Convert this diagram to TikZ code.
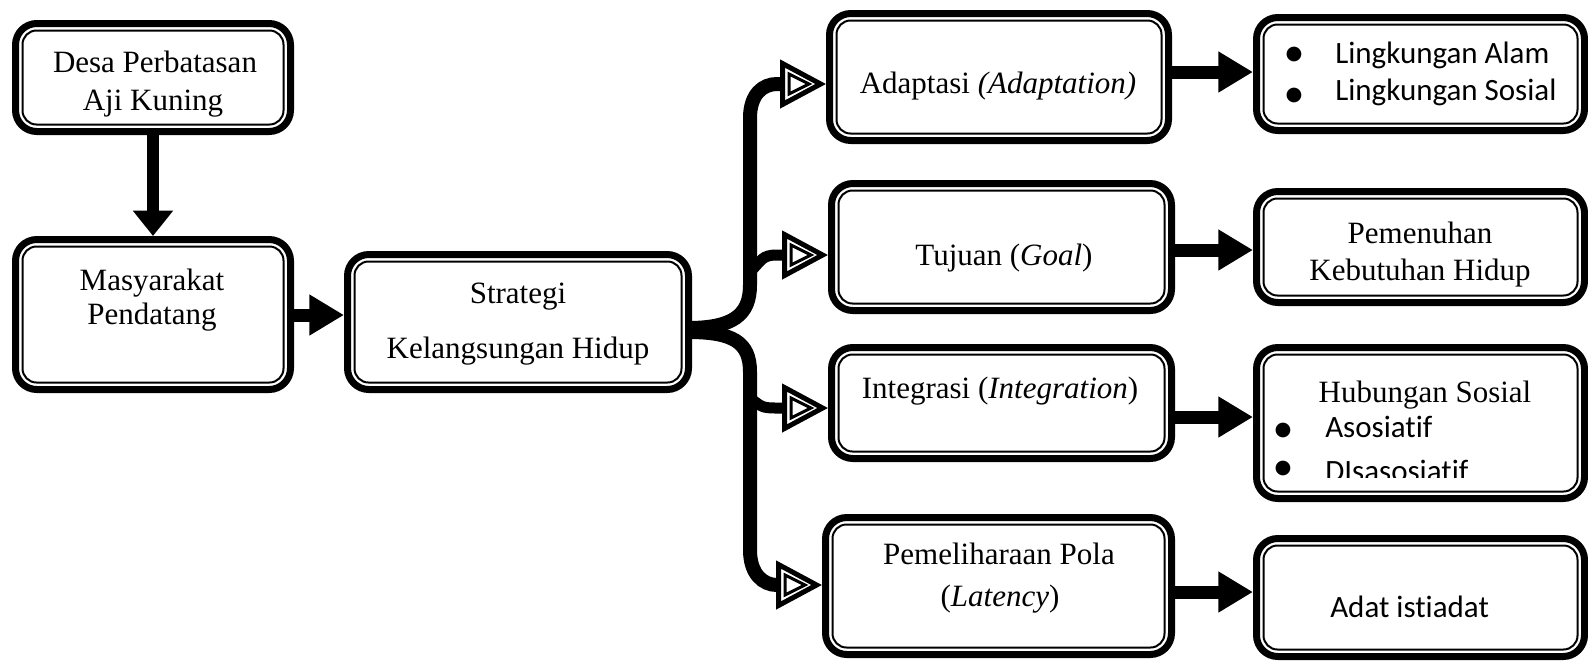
\documentclass[tikz,border=0pt]{standalone}
\usepackage{fontspec}
\setmainfont{Liberation Serif}
\newfontfamily\calfont[Ligatures=NoCommon]{Carlito}
\newfontfamily\symfont{DejaVu Sans}
\usetikzlibrary{arrows.meta,calc}
\begin{document}
\begin{tikzpicture}[x=0.75pt,y=-0.75pt,
  box/.style={draw, line width=5.25pt, rounded corners=16pt, inner sep=0pt, fill=white,
    path picture={\draw[line width=1.5pt, rounded corners=10.5pt]
      ($(path picture bounding box.south west)+(5.25pt,5.25pt)$) rectangle
      ($(path picture bounding box.north east)-(5.25pt,5.25pt)$);}},
  txt/.style={font=\fontsize{23.25}{28}\selectfont, inner sep=0pt, anchor=base},
  ctxt/.style={font=\calfont\fontsize{23.25}{28}\selectfont, inner sep=0pt, anchor=base west},
  bul/.style={font=\symfont\fontsize{14.5}{16}\selectfont, inner sep=0pt, anchor=center},
  fat/.style={line width=9.75pt, -{Triangle[length=26pt,width=29pt]}},
  fatdown/.style={line width=9pt, -{Triangle[length=19pt,width=29pt]}},
  mainbr/.style={line width=10.5pt, -{Triangle[fill=white,length=34.5pt,width=36pt,line width=3.75pt]}},
  subbr/.style={line width=8.25pt, -{Triangle[fill=white,length=34.5pt,width=36pt,line width=3.75pt]}},
  innertri/.style={line width=2.25pt, fill=white, line join=miter},
]
\useasboundingbox (0,0) rectangle (1588,662);

% boxes
\node[box, minimum width=206.25pt, minimum height=81pt]    (D)  at (153,77.5) {};
\node[box, minimum width=206.25pt, minimum height=112.5pt] (M)  at (153,314.5) {};
\node[box, minimum width=255.75pt, minimum height=101.25pt](S)  at (518,322) {};
\node[box, minimum width=254.25pt, minimum height=95.25pt] (A)  at (999,77) {};
\node[box, minimum width=255pt,    minimum height=95.25pt] (T)  at (1001.5,247) {};
\node[box, minimum width=255pt,    minimum height=83.25pt] (I)  at (1001.5,403) {};
\node[box, minimum width=259.5pt,  minimum height=102.75pt](P)  at (998.5,586) {};
\node[box, minimum width=246pt,    minimum height=84.75pt] (L)  at (1420.5,74) {};
\node[box, minimum width=246pt,    minimum height=83.25pt] (K)  at (1420.5,247) {};
\node[box, minimum width=246pt,    minimum height=113.25pt](H)  at (1420.5,423) {};
\node[box, minimum width=246pt,    minimum height=88.5pt]  (Ad) at (1420.5,597.5) {};

% texts
\node[txt] (d1) at (155,72) {Desa Perbatasan};
\node[txt] (d2) at (153,110) {Aji Kuning};
\node[txt] (m1) at (152,290) {Masyarakat};
\node[txt] (m2) at (152,324) {Pendatang};
\node[txt] (s1) at (518,303) {Strategi};
\node[txt] (s2) at (518,358) {Kelangsungan Hidup};
\node[txt] (a1) at (998,93) {Adaptasi \textit{(Adaptation)}};
\node[txt] (t1) at (1004,265) {Tujuan (\textit{Goal})};
\node[txt] (i1) at (1000,398) {Integrasi (\textit{Integration})};
\node[txt] (p1) at (999,564) {Pemeliharaan Pola};
\node[txt] (p2) at (1000,606) {(\textit{Latency})};
\node[bul] (lb1) at (1294,54) {●};
\node[bul] (lb2) at (1294,95) {●};
\node[ctxt] (l1) at (1335,63) {Lingkungan Alam};
\node[ctxt] (l2) at (1335,100) {Lingkungan Sosial};
\node[txt] (k1) at (1420,243) {Pemenuhan};
\node[txt] (k2) at (1420,280) {Kebutuhan Hidup};
\node[txt] (h1) at (1425,402) {Hubungan Sosial};
\node[bul] (hb1) at (1283,430) {●};
\node[bul] (hb2) at (1283,468) {●};
\node[ctxt] (h2) at (1325,437) {Asosiatif};
\begin{scope}
\clip (1300,450) rectangle (1560,477);
\node[ctxt] (h3) at (1325,481) {DIsasosiatif};
\end{scope}
\node[ctxt] (ad1) at (1330,617) {Adat istiadat};

% solid arrows
\draw[fatdown] (D.south) -- (M.north);
\draw[fat] ($(M.east)+(0,0.5)$) -- ($(S.west)+(0,-7)$);
\draw[fat] ($(A.east)+(0,-5)$) -- ($(L.west)+(0,-2)$);
\draw[fat] ($(T.east)+(0,3)$) -- ($(K.west)+(0,3)$);
\draw[fat] ($(I.east)+(0,14)$) -- ($(H.west)+(0,-6)$);
\draw[fat] ($(P.east)+(0,6)$) -- ($(Ad.west)+(0,-5.5)$);

% branching connector
\draw[mainbr] ($(S.east)+(-4,6)$) .. controls +(45,0) and +(0,30) .. (750,285) -- (750,118)
   .. controls +(0,-24) and +(-14,0) .. ($(A.west)+(-49,7)$) -- ($(A.west)+(0,7)$);
\draw[mainbr] ($(S.east)+(-4,10)$) .. controls +(45,0) and +(0,-30) .. (750,372) -- (750,550)
   .. controls +(0,24) and +(-14,0) .. ($(P.west)+(-45,-1)$) -- ($(P.west)+(0,-1)$);
\draw[subbr] (750,272) .. controls +(12,-12) and +(-15,0) .. ($(T.west)+(-51,8)$) -- ($(T.west)+(0,8)$);
\draw[subbr] (750,398) .. controls +(12,9) and +(-15,0) .. ($(I.west)+(-51,5)$) -- ($(I.west)+(0,5)$);
\foreach \n/\o in {A/7,T/8,I/5,P/-1}
  \draw[innertri] ($(\n.west)+(-37,\o-10)$) -- ($(\n.west)+(-37,\o+10)$) -- ($(\n.west)+(-17,\o)$) -- cycle;
\end{tikzpicture}
\end{document}
